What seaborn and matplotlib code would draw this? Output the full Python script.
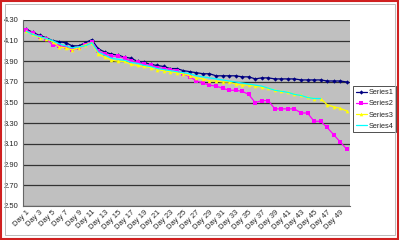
import numpy as np
import pandas as pd
import matplotlib
matplotlib.use("Agg")
import matplotlib.pyplot as plt
import seaborn as sns
from matplotlib.patches import Rectangle

days = [f"Day {i}" for i in range(1, 51)]

series1 = [4.21, 4.18, 4.15, 4.13, 4.10, 4.09, 4.08, 4.05, 4.05, 4.08,
           4.11, 4.02, 3.99, 3.97, 3.96, 3.94, 3.93, 3.90, 3.89, 3.87,
           3.86, 3.85, 3.83, 3.83, 3.81, 3.80, 3.79, 3.78, 3.78, 3.76,
           3.76, 3.76, 3.76, 3.75, 3.75, 3.73, 3.74, 3.74, 3.73, 3.73,
           3.73, 3.73, 3.72, 3.72, 3.72, 3.72, 3.71, 3.71, 3.71, 3.70]
series2 = [4.20, 4.17, 4.14, 4.12, 4.06, 4.05, 4.04, 4.01, 4.03, 4.06,
           4.09, 4.00, 3.97, 3.95, 3.95, 3.93, 3.90, 3.89, 3.87, 3.86,
           3.84, 3.83, 3.82, 3.81, 3.78, 3.75, 3.71, 3.69, 3.67, 3.66,
           3.64, 3.62, 3.62, 3.61, 3.58, 3.50, 3.52, 3.52, 3.44, 3.44,
           3.44, 3.44, 3.40, 3.40, 3.32, 3.32, 3.26, 3.19, 3.12, 3.05]
series3 = [4.19, 4.16, 4.13, 4.12, 4.09, 4.04, 4.03, 4.01, 4.03, 4.06,
           4.08, 3.97, 3.94, 3.91, 3.90, 3.90, 3.87, 3.86, 3.85, 3.84,
           3.82, 3.81, 3.80, 3.79, 3.78, 3.76, 3.74, 3.73, 3.71, 3.71,
           3.70, 3.70, 3.68, 3.67, 3.67, 3.66, 3.65, 3.64, 3.62, 3.61,
           3.60, 3.58, 3.57, 3.55, 3.54, 3.54, 3.48, 3.46, 3.445, 3.42]
series4 = [4.19, 4.16, 4.14, 4.12, 4.10, 4.07, 4.05, 4.03, 4.04, 4.05,
           4.08, 3.99, 3.96, 3.93, 3.92, 3.91, 3.89, 3.88, 3.86, 3.85,
           3.83, 3.82, 3.81, 3.80, 3.79, 3.78, 3.76, 3.75, 3.74, 3.73,
           3.72, 3.71, 3.70, 3.69, 3.68, 3.67, 3.66, 3.64, 3.62, 3.61,
           3.60, 3.58, 3.57, 3.55, 3.54, 3.54, None, None, None, None]

y_ticks = [2.50, 2.70, 2.90, 3.10, 3.30, 3.50, 3.70, 3.90, 4.10, 4.30]

sns.set_style("white")
plt.rcParams['font.family'] = ['Liberation Sans', 'DejaVu Sans']

fig = plt.figure(figsize=(4, 2.4), dpi=100)
ax = fig.add_axes([0.058, 0.1417, 0.817, 0.775])
ax.set_facecolor("#C0C0C0")

x = np.arange(len(days))
styles = [
    ("Series1", series1, "#000080", "D", 2.2),
    ("Series2", series2, "#FF00FF", "s", 2.4),
    ("Series3", series3, "#FFFF00", "^", 2.6),
    ("Series4", series4, "#00FFFF", None, 0),
]
for i, (name, vals, col, mk, ms) in enumerate(styles):
    df = pd.DataFrame({"x": x, "y": pd.to_numeric(pd.Series(vals), errors="coerce")})
    df = df.dropna()
    sns.lineplot(data=df, x="x", y="y", ax=ax, color=col, lw=0.9,
                 marker=mk, markersize=ms, markeredgewidth=0,
                 label=name, sort=False, zorder=3 + i)

ax.set_xlim(-0.5, len(days) - 0.5)
ax.set_ylim(2.50, 4.30)
ax.set_yticks(y_ticks)
ax.set_yticklabels([f"{v:.2f}" for v in y_ticks], fontsize=5.5)
ax.yaxis.grid(True, color="#333333", lw=0.9)
ax.set_axisbelow(True)
ax.set_xticks(x[::2])
ax.set_xticklabels(days[::2], rotation=45, ha="right", rotation_mode="anchor",
                   fontsize=5.5)
ax.set_xticks(np.arange(-0.5, len(days), 1), minor=True)
ax.tick_params(axis="x", which="major", length=0, pad=2)
ax.tick_params(axis="x", which="minor", length=2, width=0.6, color="#555555")
ax.tick_params(axis="y", which="major", length=2, width=0.6, pad=1.5)
ax.set_xlabel("")
ax.set_ylabel("")
for s in ["top", "right"]:
    ax.spines[s].set_visible(False)
for s in ["left", "bottom"]:
    ax.spines[s].set_color("#666666")
    ax.spines[s].set_linewidth(0.8)

leg = ax.legend(loc="upper left", bbox_to_anchor=(0.8825, 0.64),
                bbox_transform=fig.transFigure, fontsize=5.3,
                frameon=True, fancybox=False, edgecolor="#000000",
                handlelength=1.5, borderpad=0.35, labelspacing=0.55,
                handletextpad=0.3, borderaxespad=0)
leg.get_frame().set_linewidth(0.6)

fig.patches.append(Rectangle((0.003, 0.006), 0.992, 0.988, transform=fig.transFigure,
                             fill=False, edgecolor="#D02020", lw=1.5))
fig.patches.append(Rectangle((0.012, 0.02), 0.975, 0.962, transform=fig.transFigure,
                             fill=False, edgecolor="#B0B0B0", lw=0.6))

fig.savefig("out.png", dpi=100)
